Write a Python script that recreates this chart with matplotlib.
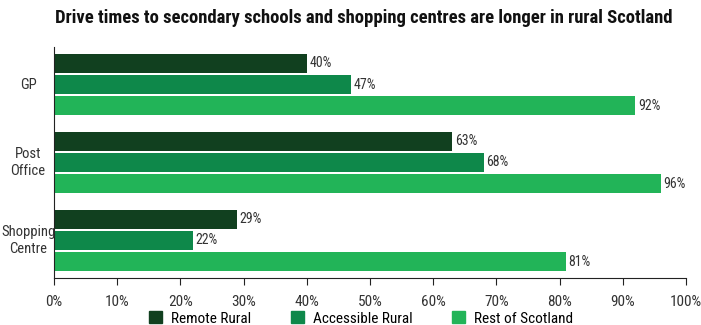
import numpy as np
import matplotlib.pyplot as plt
from matplotlib.patches import Patch

# Données
categories = ['GP', 'Post\nOffice', 'Shopping\nCentre']
series = ['Remote Rural', 'Accessible Rural', 'Rest of Scotland']
remote = [40, 63, 29]
accessible = [47, 68, 22]
rest = [92, 96, 81]
couleurs = ['#11401f', '#0e884a', '#22b458']

plt.rcParams['font.family'] = ['Roboto Condensed', 'DejaVu Sans']

fig = plt.figure(figsize=(7.01, 3.25), dpi=100)
ax = fig.add_axes([0.077, 0.145, 0.9015, 0.71])

y = np.arange(len(categories))
pas = 0.27
haut = 0.245
for k, (vals, c) in enumerate(zip([remote, accessible, rest], couleurs)):
    pos = y + (k - 1) * pas
    ax.barh(pos, vals, height=haut, color=c, label=series[k])
    for p, v in zip(pos, vals):
        ax.text(v + 0.4, p, f'{v}%', va='center', ha='left', fontsize=10, color='#333333')

ax.set_xlim(0, 100)
ax.set_ylim(2.48, -0.48)
ax.set_xticks(np.arange(0, 101, 10))
ax.set_xticklabels([f'{t}%' for t in range(0, 101, 10)], fontsize=11, color='#333333')
ax.set_yticks(y)
ax.set_yticklabels([])
ax.tick_params(axis='y', length=0)
ax.tick_params(axis='x', direction='out', length=5, color='#222222', pad=7)
# libellés des catégories centrés à gauche de l'axe
for yi, cat in zip(y, categories):
    ax.text(-0.041, yi, cat, transform=ax.get_yaxis_transform(), ha='center', va='center',
            fontsize=10.5, color='#333333', linespacing=1.2)
ax.spines['top'].set_visible(False)
ax.spines['right'].set_visible(False)
ax.spines['left'].set_color('#222222')
ax.spines['bottom'].set_color('#222222')

fig.text(0.519, 0.945, 'Drive times to secondary schools and shopping centres are longer in rural Scotland',
         ha='center', va='center', fontsize=13.4, fontweight='bold', color='#111111')

poignees = [Patch(color=c) for c in couleurs]
fig.legend(poignees, series, loc='center', bbox_to_anchor=(0.515, 0.02), ncol=3, frameon=False,
           fontsize=11, handlelength=0.85, handleheight=0.85, handletextpad=0.6, columnspacing=2.6,
           borderpad=0, borderaxespad=0)

plt.savefig('out.png', dpi=100)
